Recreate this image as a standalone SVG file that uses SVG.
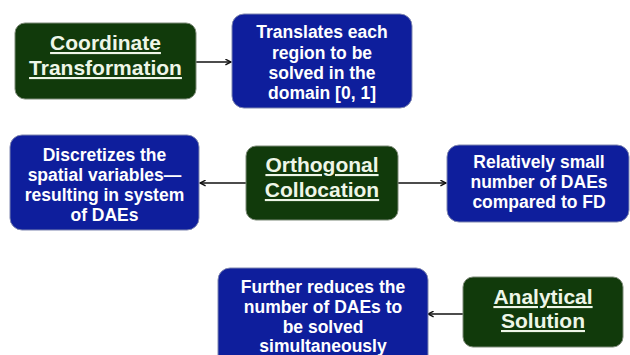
<svg xmlns="http://www.w3.org/2000/svg" width="630" height="355" viewBox="0 0 630 355">
<defs>
<style>
.g rect{fill:#113a0b;stroke:#7d8a78;stroke-width:1}
.b rect{fill:#0e1e9c;stroke:#7f86b0;stroke-width:1}
.g text{font-family:"Liberation Sans",Arial,sans-serif;font-weight:bold;font-size:21px;fill:#eef6e8;text-anchor:middle;text-decoration:underline}
.b text{font-family:"Liberation Sans",Arial,sans-serif;font-weight:bold;font-size:17.5px;fill:#ffffff;text-anchor:middle}
.c line{stroke:#111;stroke-width:1.6;marker-end:url(#ah)}
</style>
<marker id="ah" viewBox="0 0 10 10" refX="9" refY="5" markerWidth="7" markerHeight="7" markerUnits="userSpaceOnUse" orient="auto">
<path d="M1,1 L9,5 L1,9" fill="none" stroke="#111" stroke-width="2"/>
</marker>
</defs>
<rect width="630" height="355" fill="#ffffff"/>
<g class="c" id="connectors">
<line x1="196" y1="62" x2="231" y2="62"/>
<line x1="246" y1="183" x2="200" y2="183"/>
<line x1="398" y1="183" x2="446" y2="183"/>
<line x1="463" y1="314" x2="428" y2="314"/>
</g>
<g class="g" id="coordinate">
<rect x="15" y="23" width="181" height="76" rx="10"/>
<text x="105.5" y="50">Coordinate</text>
<text x="105.5" y="75">Transformation</text>
</g>
<g class="b" id="translates">
<rect x="232" y="14" width="180" height="94" rx="12"/>
<text x="322" y="38">Translates each</text>
<text x="322" y="58.5">region to be</text>
<text x="322" y="79">solved in the</text>
<text x="322" y="99">domain [0, 1]</text>
</g>
<g class="b" id="discretizes">
<rect x="10" y="135" width="189" height="95" rx="12"/>
<text x="104.5" y="161">Discretizes the</text>
<text x="104.5" y="181">spatial variables—</text>
<text x="104.5" y="201">resulting in system</text>
<text x="104.5" y="221">of DAEs</text>
</g>
<g class="g" id="orthogonal">
<rect x="246" y="146" width="152" height="74" rx="10"/>
<text x="322" y="172">Orthogonal</text>
<text x="322" y="197">Collocation</text>
</g>
<g class="b" id="relatively">
<rect x="447" y="145" width="182" height="77" rx="12"/>
<text x="539" y="168">Relatively small</text>
<text x="539" y="188">number of DAEs</text>
<text x="539" y="208">compared to FD</text>
</g>
<g class="b" id="further">
<rect x="218" y="268" width="210" height="100" rx="12"/>
<text x="323" y="293">Further reduces the</text>
<text x="323" y="313">number of DAEs to</text>
<text x="323" y="333">be solved</text>
<text x="323" y="352">simultaneously</text>
</g>
<g class="g" id="analytical">
<rect x="463" y="277" width="160" height="70" rx="10"/>
<text x="543" y="304">Analytical</text>
<text x="543" y="328">Solution</text>
</g>
</svg>
